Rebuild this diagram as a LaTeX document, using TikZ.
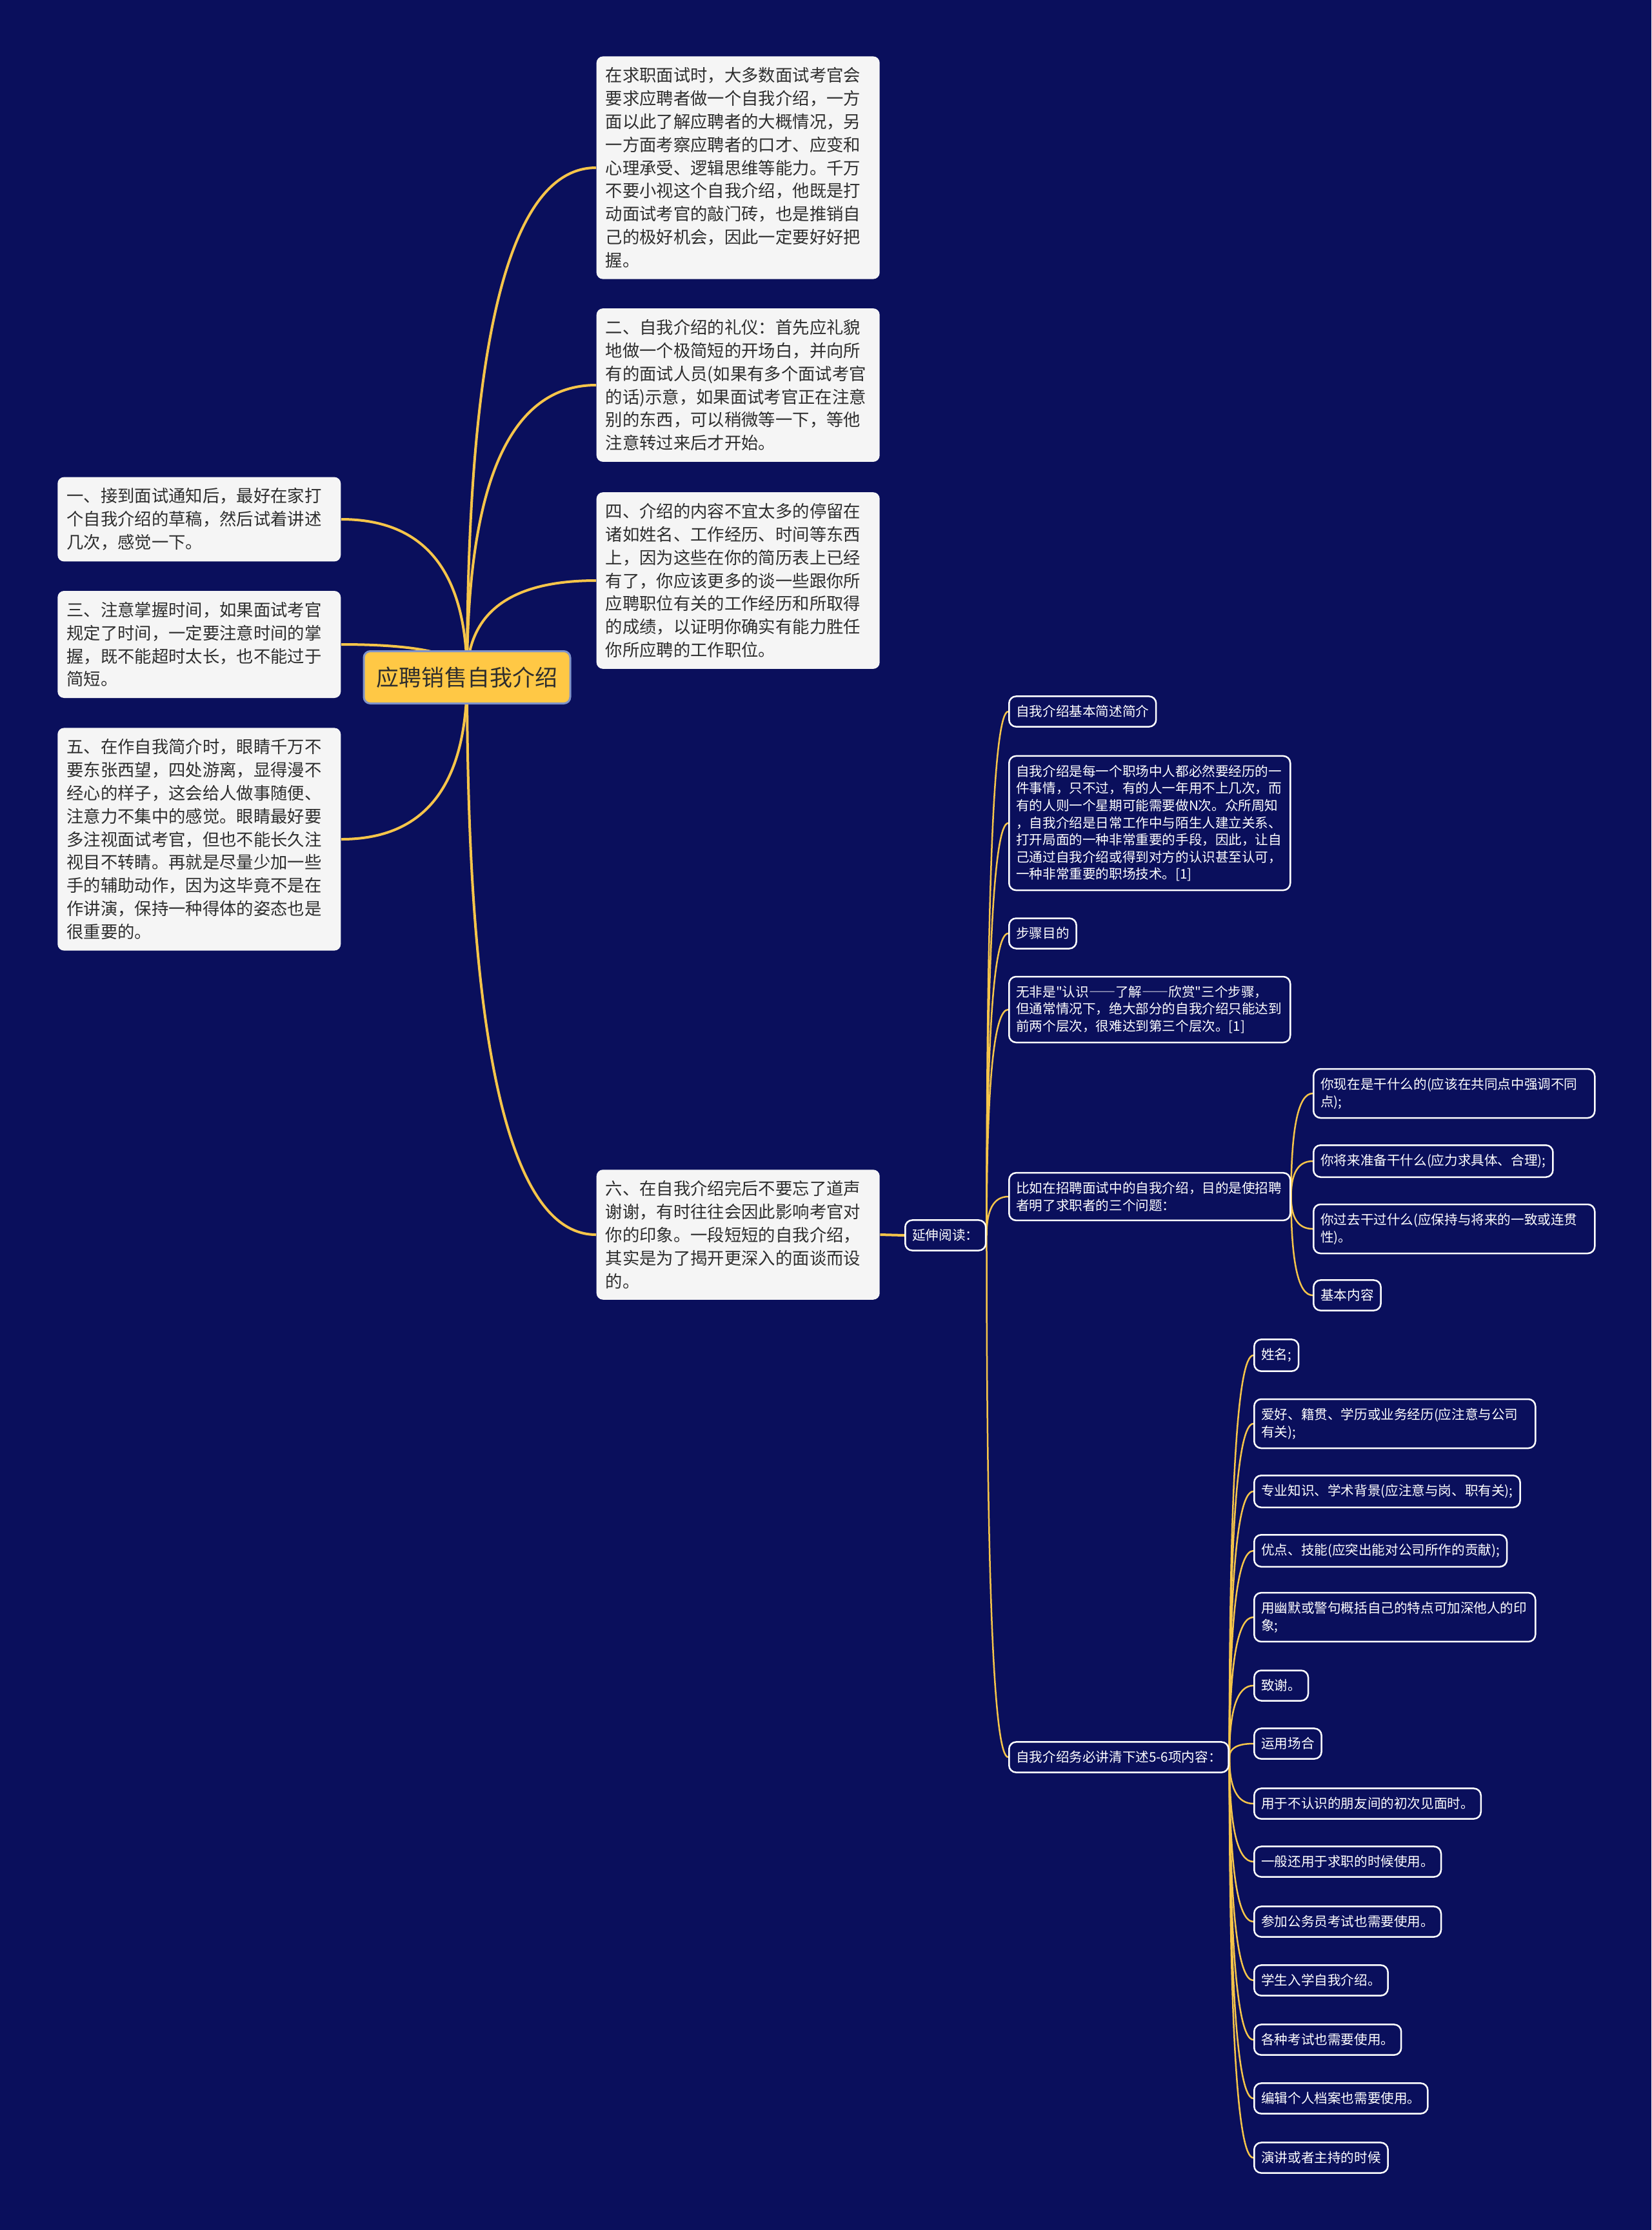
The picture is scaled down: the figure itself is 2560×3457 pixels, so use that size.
\documentclass[tikz,border=0pt]{standalone}
\usepackage{fontspec}
\setmainfont{Noto Sans CJK SC}[Ligatures=TeXOff]
\usetikzlibrary{calc,backgrounds}
\definecolor{mapNavy}{HTML}{0A0F5C}
\definecolor{mapGold}{HTML}{FFC845}
\definecolor{mapLine}{HTML}{F6C54A}
\definecolor{mapPaper}{HTML}{F5F5F5}
\definecolor{mapInk}{HTML}{2E2E2E}
\definecolor{mapRim}{HTML}{7F93C9}
\newcommand{\longdash}{{\addfontfeatures{RawFeature=+fwid}——}}

\begin{document}
\begin{tikzpicture}[x=0.1mm, y=-0.1mm,
  root/.style={draw=mapRim, line width=0.3mm, fill=mapGold, rounded corners=1mm, text=mapInk,
    minimum width=32mm, minimum height=8.1mm, font=\fontsize{9.96pt}{12pt}\selectfont},
  card/.style={fill=mapPaper, rounded corners=1mm, text=mapInk, align=left, text width=41.1mm,
    inner xsep=1.4mm, inner ysep=1.7mm, font=\fontsize{7.5pt}{10.2pt}\selectfont},
  leaf/.style={draw=white, line width=0.25mm, fill=mapNavy, rounded corners=1.1mm, text=white,
    align=left, inner xsep=1.1mm, inner ysep=1.4mm, font=\fontsize{5.86pt}{7.55pt}\selectfont},
  wide/.style={text width=41.4mm},
  branch/.style={draw=mapLine, line width=0.4mm},
  twig/.style={draw=mapLine, line width=0.25mm},
  link/.style={to path={.. controls ($(\tikztostart)!.667!(\tikztostart|-\tikztotarget)$)
    and ($(\tikztotarget)!.667!(\tikztostart|-\tikztotarget)$) .. (\tikztotarget)}}]
\useasboundingbox (0,0) rectangle (2560,3457);
% centre
\node[root] (root) at (724,1050) {应聘销售自我介绍};
% the six points, right side
\node[card, anchor=west] (lead) at (924,260) {在求职面试时，大多数面试考官会\\要求应聘者做一个自我介绍，一方\\面以此了解应聘者的大概情况，另\\一方面考察应聘者的口才、应变和\\心理承受、逻辑思维等能力。千万\\不要小视这个自我介绍，他既是打\\动面试考官的敲门砖，也是推销自\\己的极好机会，因此一定要好好把\\握。};
\node[card, anchor=west] (p2) at (924,597) {二、自我介绍的礼仪：首先应礼貌\\地做一个极简短的开场白，并向所\\有的面试人员(如果有多个面试考官\\的话)示意，如果面试考官正在注意\\别的东西，可以稍微等一下，等他\\注意转过来后才开始。};
\node[card, anchor=west] (p4) at (924,900) {四、介绍的内容不宜太多的停留在\\诸如姓名、工作经历、时间等东西\\上，因为这些在你的简历表上已经\\有了，你应该更多的谈一些跟你所\\应聘职位有关的工作经历和所取得\\的成绩，以证明你确实有能力胜任\\你所应聘的工作职位。};
\node[card, anchor=west] (p6) at (924,1914) {六、在自我介绍完后不要忘了道声\\谢谢，有时往往会因此影响考官对\\你的印象。一段短短的自我介绍，\\其实是为了揭开更深入的面谈而设\\的。};
% left side
\node[card, anchor=east] (p1) at (529,805) {一、接到面试通知后，最好在家打\\个自我介绍的草稿，然后试着讲述\\几次，感觉一下。};
\node[card, anchor=east] (p3) at (529,999) {三、注意掌握时间，如果面试考官\\规定了时间，一定要注意时间的掌\\握，既不能超时太长，也不能过于\\简短。};
\node[card, anchor=east] (p5) at (529,1301) {五、在作自我简介时，眼睛千万不\\要东张西望，四处游离，显得漫不\\经心的样子，这会给人做事随便、\\注意力不集中的感觉。眼睛最好要\\多注视面试考官，但也不能长久注\\视目不转睛。再就是尽量少加一些\\手的辅助动作，因为这毕竟不是在\\作讲演，保持一种得体的姿态也是\\很重要的。};
% further reading
\node[leaf, anchor=west] (more) at (1402,1915) {延伸阅读：};
\node[leaf, anchor=west] (m1) at (1563,1103) {自我介绍基本简述简介};
\node[leaf, wide, anchor=west] (m2) at (1563,1276) {自我介绍是每一个职场中人都必然要经历的一\\件事情，只不过，有的人一年用不上几次，而\\有的人则一个星期可能需要做N次。众所周知\\，自我介绍是日常工作中与陌生人建立关系、\\打开局面的一种非常重要的手段，因此，让自\\己通过自我介绍或得到对方的认识甚至认可，\\一种非常重要的职场技术。[1]};
\node[leaf, anchor=west] (m3) at (1563,1447) {步骤目的};
\node[leaf, wide, anchor=west] (m4) at (1563,1565) {无非是"认识\longdash 了解\longdash 欣赏"三个步骤，\\但通常情况下，绝大部分的自我介绍只能达到\\前两个层次，很难达到第三个层次。[1]};
\node[leaf, wide, anchor=west] (m5) at (1563,1855) {比如在招聘面试中的自我介绍，目的是使招聘\\者明了求职者的三个问题：};
\node[leaf, anchor=west] (m6) at (1563,2724) {自我介绍务必讲清下述5-6项内容：};
% three questions
\node[leaf, wide, anchor=west] (ask1) at (2035,1695) {你现在是干什么的(应该在共同点中强调不同\\点);};
\node[leaf, anchor=west] (ask2) at (2035,1800) {你将来准备干什么(应力求具体、合理);};
\node[leaf, wide, anchor=west] (ask3) at (2035,1905) {你过去干过什么(应保持与将来的一致或连贯\\性)。};
\node[leaf, anchor=west] (ask4) at (2035,2008) {基本内容};
% contents and occasions
\node[leaf, anchor=west] (item1) at (1943,2101) {姓名;};
\node[leaf, wide, anchor=west] (item2) at (1943,2207) {爱好、籍贯、学历或业务经历(应注意与公司\\有关);};
\node[leaf, anchor=west] (item3) at (1943,2312) {专业知识、学术背景(应注意与岗、职有关);};
\node[leaf, anchor=west] (item4) at (1943,2404) {优点、技能(应突出能对公司所作的贡献);};
\node[leaf, wide, anchor=west] (item5) at (1943,2507) {用幽默或警句概括自己的特点可加深他人的印\\象;};
\node[leaf, anchor=west] (item6) at (1943,2613) {致谢。};
\node[leaf, anchor=west] (item7) at (1943,2703) {运用场合};
\node[leaf, anchor=west] (item8) at (1943,2796) {用于不认识的朋友间的初次见面时。};
\node[leaf, anchor=west] (item9) at (1943,2886) {一般还用于求职的时候使用。};
\node[leaf, anchor=west] (item10) at (1943,2979) {参加公务员考试也需要使用。};
\node[leaf, anchor=west] (item11) at (1943,3070) {学生入学自我介绍。};
\node[leaf, anchor=west] (item12) at (1943,3162) {各种考试也需要使用。};
\node[leaf, anchor=west] (item13) at (1943,3253) {编辑个人档案也需要使用。};
\node[leaf, anchor=west] (item14) at (1943,3345) {演讲或者主持的时候};
\begin{scope}[on background layer]
\fill[mapNavy] (0,0) rectangle (2560,3457);
% trunk
\draw[branch] (root.center) to[link] (lead.west);
\draw[branch] (root.center) to[link] (p2.west);
\draw[branch] (root.center) to[link] (p4.west);
\draw[branch] (root.center) to[link] (p6.west);
\draw[branch] (root.center) to[link] (p1.east);
\draw[branch] (root.center) to[link] (p3.east);
\draw[branch] (root.center) to[link] (p5.east);
\draw[branch] (p6.east) -- (more.west);
% twigs
\foreach \n in {1,...,6} \draw[twig] (more.east) to[link] (m\n.west);
\foreach \n in {1,...,4} \draw[twig] (m5.east) to[link] (ask\n.west);
\foreach \n in {1,...,14} \draw[twig] (m6.east) to[link] (item\n.west);
\end{scope}
\end{tikzpicture}
\end{document}
